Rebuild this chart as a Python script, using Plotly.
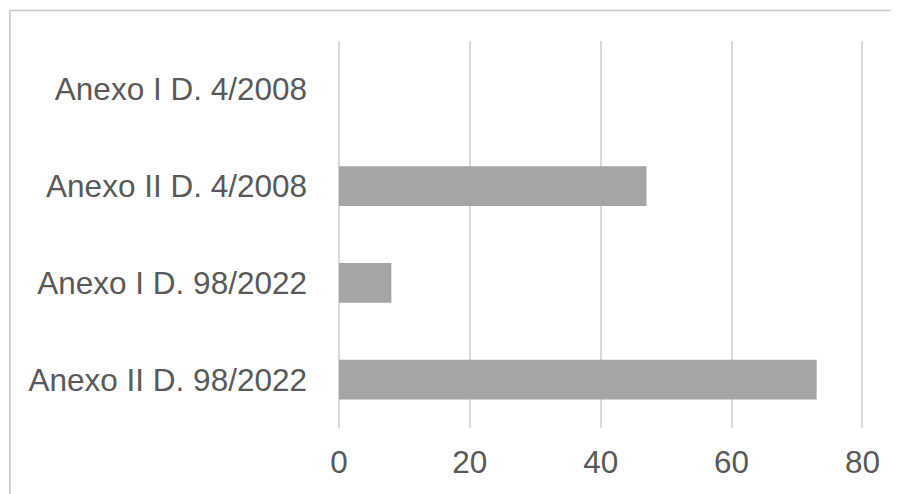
import plotly.graph_objects as go

categories = ["Anexo I D. 4/2008", "Anexo II D. 4/2008", "Anexo I D. 98/2022", "Anexo II D. 98/2022"]
values = [0, 47, 8, 73]
tick_values = [0, 20, 40, 60, 80]
tick_labels = ["0", "20", "40", "60", "80"]
x_max = 81  # a little past the last tick so its gridline is drawn

# page body adds an 8px margin; positions below are in figure pixels
W, H = 899, 494
L, T = 330.5, 33
px_per_unit = 131 / 20
pw = px_per_unit * x_max
ph = 387
R = W - L - pw
B = H - T - ph

fig = go.Figure(go.Bar(
    y=categories, x=values, orientation="h",
    marker=dict(color="#a5a5a5", line=dict(width=0)),
))

font = dict(family="Liberation Sans, Arial, Helvetica, sans-serif", size=31.5, color="#595959")

fig.update_layout(
    width=W, height=H,
    margin=dict(l=L, r=R, t=T, b=B, pad=0),
    paper_bgcolor="white", plot_bgcolor="white",
    bargap=0.587,
    showlegend=False,
    font=font,
    xaxis=dict(range=[0, x_max], tickvals=tick_values, ticktext=tick_labels,
               showgrid=True, gridcolor="#d9d9d9", gridwidth=1.5,
               zeroline=True, zerolinecolor="#d9d9d9", zerolinewidth=1.5,
               showline=False, ticks="", tickfont=font, ticklabelstandoff=12),
    yaxis=dict(categoryorder="array", categoryarray=categories, autorange="reversed",
               showgrid=False, zeroline=False, showline=False, ticks="",
               tickfont=font, ticklabelstandoff=31),
)

# outer chart frame (left and top edges visible)
x0 = (1 - L) / pw
y1 = (T + ph - 2.5) / ph
fig.add_shape(type="line", xref="paper", yref="paper", x0=x0, x1=x0, y0=-0.5, y1=y1,
              line=dict(color="#c6c6c6", width=1.5))
fig.add_shape(type="line", xref="paper", yref="paper", x0=x0, x1=1.5, y0=y1, y1=y1,
              line=dict(color="#c6c6c6", width=1.5))

fig.write_html("out.html")
